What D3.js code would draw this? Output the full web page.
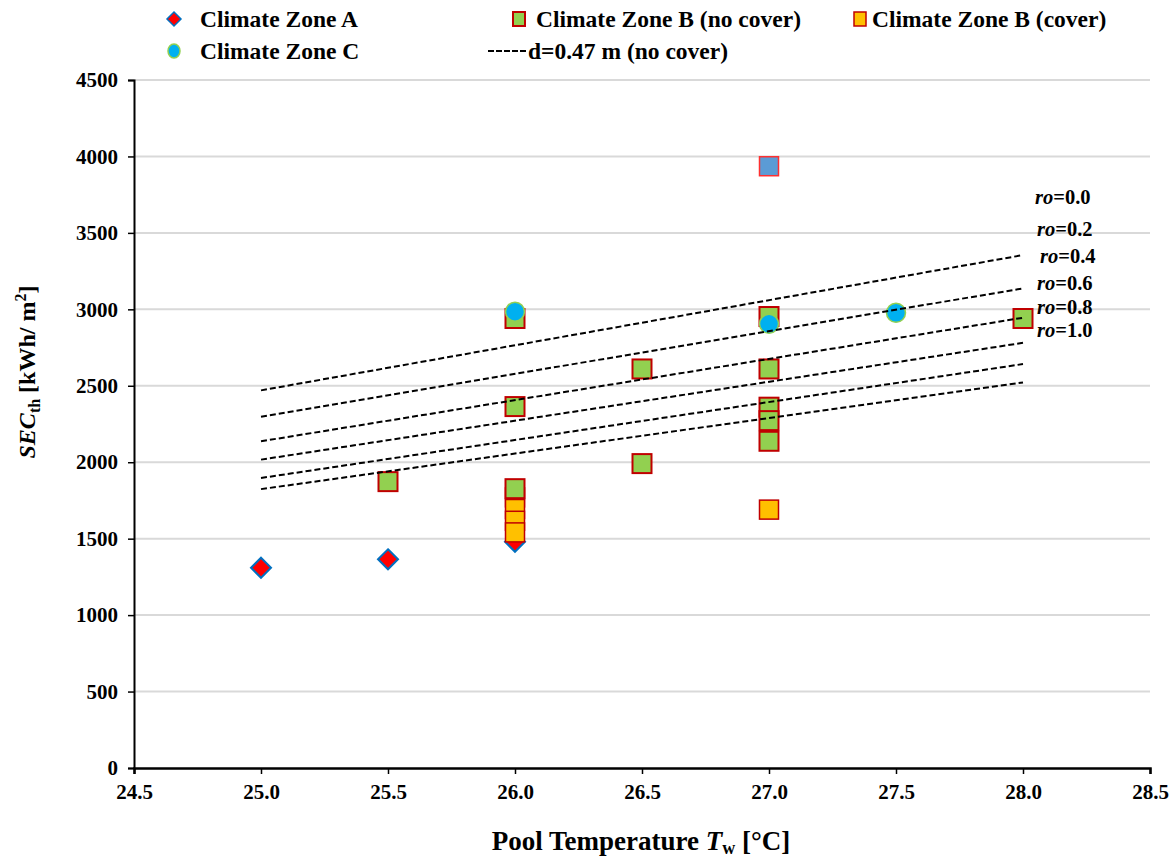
<!DOCTYPE html>
<html>
<head>
<meta charset="utf-8">
<script src="https://cdn.jsdelivr.net/npm/d3@7"></script>
<style>
  html, body { margin: 0; padding: 0; background: #fff; }
  svg { display: block; }
  svg text { font-family: "Liberation Serif", "Times New Roman", Times, "DejaVu Serif", serif; font-weight: bold; }
</style>
</head>
<body>
<svg id="chart" width="1174" height="858"></svg>
<script>
// ---------- data ----------
const xTicks = [24.5, 25.0, 25.5, 26.0, 26.5, 27.0, 27.5, 28.0, 28.5];
const yTicks = [0, 500, 1000, 1500, 2000, 2500, 3000, 3500, 4000, 4500];

const zoneA_T   = [25.0, 25.5, 26.0];
const zoneA_SEC = [1310, 1365, 1480];

const zoneBnc_T   = [25.5, 26.0, 26.0, 26.0, 26.5, 26.5, 27.0, 27.0, 27.0, 27.0, 27.0, 28.0];
const zoneBnc_SEC = [1873, 2940, 2364, 1827, 2610, 1991, 2953, 2610, 2360, 2272, 2137, 2940];

const zoneBc_T   = [26.0, 26.0, 26.0, 26.0, 27.0];
const zoneBc_SEC = [1770, 1694, 1617, 1541, 1690];

const zoneBother_T   = [27.0];
const zoneBother_SEC = [3936];

const zoneC_T   = [26.0, 27.0, 27.5];
const zoneC_SEC = [2985, 2905, 2978];

const roLabels  = ["0.0", "0.2", "0.4", "0.6", "0.8", "1.0"];
const lineT     = [25.0, 28.0];
const roStart   = [2470, 2298, 2137, 2017, 1897, 1824];
const roEnd     = [3355, 3137, 2945, 2781, 2642, 2522];

const legendLabels = ["Climate Zone A", "Climate Zone B (no cover)", "Climate Zone B (cover)", "Climate Zone C", "d=0.47 m (no cover)"];

// ---------- layout ----------
const svg = d3.select("#chart");
const x = d3.scaleLinear().domain([24.5, 28.5]).range([134, 1150]);
const y = d3.scaleLinear().domain([0, 4500]).range([768, 80]);

// gridlines
svg.append("g").selectAll("line").data(yTicks.filter(d => d > 0)).join("line")
  .attr("x1", x(24.5)).attr("x2", x(28.5))
  .attr("y1", d => y(d)).attr("y2", d => y(d))
  .attr("stroke", "#d9d9d9").attr("stroke-width", 2);

// axes
const yAxis = d3.axisLeft(y).tickValues(yTicks).tickFormat(d3.format("d")).tickSize(6).tickPadding(10);
const gy = svg.append("g").attr("transform", `translate(${x(24.5)},0)`).call(yAxis);
gy.attr("font-family", null);
gy.select(".domain").attr("stroke", "#000").attr("stroke-width", 2);
gy.selectAll(".tick line").attr("stroke", "#000").attr("stroke-width", 1.5);
gy.selectAll(".tick text").attr("font-size", 21).attr("fill", "#000");

const xAxis = d3.axisBottom(x).tickValues(xTicks).tickFormat(d3.format(".1f")).tickSize(6).tickPadding(10);
const gx = svg.append("g").attr("transform", `translate(0,${y(0)})`).call(xAxis);
gx.attr("font-family", null);
gx.select(".domain").attr("stroke", "#000").attr("stroke-width", 2.5);
gx.selectAll(".tick line").attr("stroke", "#000").attr("stroke-width", 1.5);
gx.selectAll(".tick text").attr("font-size", 21).attr("fill", "#000");

// markers
const zip = (a, b) => a.map((v, i) => [v, b[i]]);
const sq = 19;

// Zone A diamonds
svg.append("g").selectAll("path").data(zip(zoneA_T, zoneA_SEC)).join("path")
  .attr("transform", d => `translate(${x(d[0])},${y(d[1])})`)
  .attr("d", "M0,-10 L10,0 L0,10 L-10,0 Z")
  .attr("fill", "#ff0000").attr("stroke", "#0070c0").attr("stroke-width", 2);

// Zone B (cover) orange squares
svg.append("g").selectAll("rect").data(zip(zoneBc_T, zoneBc_SEC)).join("rect")
  .attr("x", d => x(d[0]) - sq / 2).attr("y", d => y(d[1]) - sq / 2)
  .attr("width", sq).attr("height", sq)
  .attr("fill", "#ffc000").attr("stroke", "#c00000").attr("stroke-width", 1.5);

// Zone B other (blue square)
svg.append("g").selectAll("rect").data(zip(zoneBother_T, zoneBother_SEC)).join("rect")
  .attr("x", d => x(d[0]) - sq / 2).attr("y", d => y(d[1]) - sq / 2)
  .attr("width", sq).attr("height", sq)
  .attr("fill", "#5b9bd5").attr("stroke", "#ff3030").attr("stroke-width", 1.5);

// Zone B (no cover) green squares
svg.append("g").selectAll("rect").data(zip(zoneBnc_T, zoneBnc_SEC)).join("rect")
  .attr("x", d => x(d[0]) - sq / 2).attr("y", d => y(d[1]) - sq / 2)
  .attr("width", sq).attr("height", sq)
  .attr("fill", "#92d050").attr("stroke", "#c00000").attr("stroke-width", 2);

// Zone C circles
svg.append("g").selectAll("circle").data(zip(zoneC_T, zoneC_SEC)).join("circle")
  .attr("cx", d => x(d[0])).attr("cy", d => y(d[1])).attr("r", 9.5)
  .attr("fill", "#00b0f0").attr("stroke", "#92d050").attr("stroke-width", 1.5);

// dashed lines
const lines = roLabels.map((r, i) => [[lineT[0], roStart[i]], [lineT[1], roEnd[i]]]);
svg.append("g").selectAll("path").data(lines).join("path")
  .attr("d", d3.line().x(d => x(d[0])).y(d => y(d[1])))
  .attr("fill", "none").attr("stroke", "#000").attr("stroke-width", 2)
  .attr("stroke-dasharray", "6,3");

// ro labels
const roPos = [[1035, 197], [1037, 229], [1040, 256], [1037, 283], [1037, 307], [1037, 330]];
const rl = svg.append("g").selectAll("text").data(roLabels).join("text")
  .attr("x", (d, i) => roPos[i][0]).attr("y", (d, i) => roPos[i][1])
  .attr("dy", "0.35em").attr("font-size", 20.5).attr("fill", "#000");
rl.append("tspan").attr("font-style", "italic").text("ro");
rl.append("tspan").text(d => "=" + d);

// legend
const lg = svg.append("g").attr("font-size", 23.5).attr("fill", "#000");
lg.append("path").attr("d", "M0,-7 L7,0 L0,7 L-7,0 Z").attr("transform", "translate(174,19)")
  .attr("fill", "#ff0000").attr("stroke", "#0070c0").attr("stroke-width", 1.5);
lg.append("text").attr("x", 200).attr("y", 19).attr("dy", "0.35em").text(legendLabels[0]);
lg.append("rect").attr("x", 513).attr("y", 12).attr("width", 12).attr("height", 14)
  .attr("fill", "#92d050").attr("stroke", "#c00000").attr("stroke-width", 2);
lg.append("text").attr("x", 536).attr("y", 19).attr("dy", "0.35em").text(legendLabels[1]);
lg.append("rect").attr("x", 854).attr("y", 12).attr("width", 12).attr("height", 14)
  .attr("fill", "#ffc000").attr("stroke", "#c00000").attr("stroke-width", 1.5);
lg.append("text").attr("x", 872).attr("y", 19).attr("dy", "0.35em").text(legendLabels[2]);
lg.append("ellipse").attr("cx", 174).attr("cy", 51).attr("rx", 6).attr("ry", 7)
  .attr("fill", "#00b0f0").attr("stroke", "#92d050").attr("stroke-width", 1.5);
lg.append("text").attr("x", 200).attr("y", 51).attr("dy", "0.35em").text(legendLabels[3]);
lg.append("line").attr("x1", 488).attr("x2", 527).attr("y1", 51).attr("y2", 51)
  .attr("stroke", "#000").attr("stroke-width", 2).attr("stroke-dasharray", "6,2");
lg.append("text").attr("x", 528).attr("y", 51).attr("dy", "0.35em").text(legendLabels[4]);

// axis titles
const xt = svg.append("text").attr("x", 641).attr("y", 850).attr("text-anchor", "middle")
  .attr("font-size", 27).attr("fill", "#000");
xt.append("tspan").text("Pool Temperature ");
xt.append("tspan").attr("font-style", "italic").text("T");
xt.append("tspan").attr("font-size", 18).attr("dy", 4).text("w");
xt.append("tspan").attr("dy", -4).text(" [°C]");

const yt = svg.append("text").attr("transform", "translate(35,372) rotate(-90)").attr("text-anchor", "middle")
  .attr("font-size", 24).attr("fill", "#000");
yt.append("tspan").attr("font-style", "italic").text("SEC");
yt.append("tspan").attr("font-size", 16).attr("dy", 5).text("th");
yt.append("tspan").attr("dy", -5).text(" [kWh/ m");
yt.append("tspan").attr("font-size", 16).attr("dy", -9).text("2");
yt.append("tspan").attr("dy", 9).text("]");
</script>
</body>
</html>
